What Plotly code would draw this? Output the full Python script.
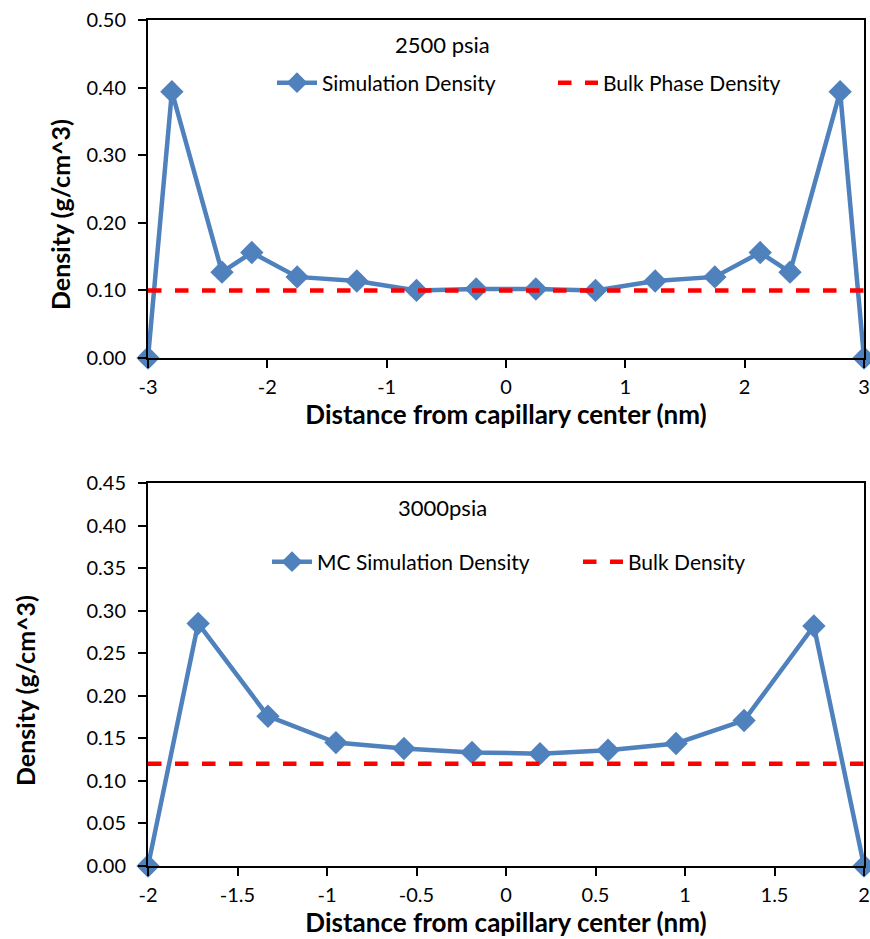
import plotly.graph_objects as go

# ---- data: 2500 psia ----
x_2500 = [-3.0, -2.8, -2.38, -2.13, -1.75, -1.25, -0.75, -0.25, 0.25, 0.75, 1.25, 1.75, 2.13, 2.38, 2.8, 3.0]
sim_2500 = [0.0, 0.394, 0.127, 0.156, 0.120, 0.114, 0.100, 0.102, 0.102, 0.100, 0.114, 0.120, 0.156, 0.127, 0.394, 0.0]
bulk_x_2500 = [-3.0, 3.0]
bulk_2500 = [0.10, 0.10]

# ---- data: 3000 psia ----
x_3000 = [-2.0, -1.72, -1.33, -0.95, -0.57, -0.19, 0.19, 0.57, 0.95, 1.33, 1.72, 2.0]
sim_3000 = [0.0, 0.285, 0.176, 0.145, 0.138, 0.1335, 0.132, 0.136, 0.144, 0.171, 0.282, 0.0]
bulk_x_3000 = [-2.0, 2.0]
bulk_3000 = [0.12, 0.12]

# ---- tick labels ----
xt_top = [-3, -2, -1, 0, 1, 2, 3]
xt_top_lbl = ["-3", "-2", "-1", "0", "1", "2", "3"]
xt_bot = [-2, -1.5, -1, -0.5, 0, 0.5, 1, 1.5, 2]
xt_bot_lbl = ["-2", "-1.5", "-1", "-0.5", "0", "0.5", "1", "1.5", "2"]
yt_top = [0, 0.1, 0.2, 0.3, 0.4, 0.5]
yt_top_lbl = ["0.00", "0.10", "0.20", "0.30", "0.40", "0.50"]
yt_bot = [0, 0.05, 0.1, 0.15, 0.2, 0.25, 0.3, 0.35, 0.4, 0.45]
yt_bot_lbl = ["0.00", "0.05", "0.10", "0.15", "0.20", "0.25", "0.30", "0.35", "0.40", "0.45"]

BLUE = "#4F81BD"
RED = "#FF0000"
FONT = "Lato"

W, H = 870, 939
def px(x): return x / W
def py(y): return 1 - y / H

fig = go.Figure()

fig.add_trace(go.Scatter(x=x_2500, y=sim_2500, mode="lines+markers", name="Simulation Density",
                         line=dict(color=BLUE, width=4.5), marker=dict(symbol="diamond", size=18, color=BLUE),
                         cliponaxis=False, xaxis="x", yaxis="y", legend="legend"))
fig.add_trace(go.Scatter(x=bulk_x_2500, y=bulk_2500, mode="lines", name="Bulk Phase Density",
                         line=dict(color=RED, width=4.5, dash="dash"),
                         xaxis="x", yaxis="y", legend="legend"))
fig.add_trace(go.Scatter(x=x_3000, y=sim_3000, mode="lines+markers", name="MC Simulation Density",
                         line=dict(color=BLUE, width=4.5), marker=dict(symbol="diamond", size=18, color=BLUE),
                         cliponaxis=False, xaxis="x2", yaxis="y2", legend="legend2"))
fig.add_trace(go.Scatter(x=bulk_x_3000, y=bulk_3000, mode="lines", name="Bulk Density",
                         line=dict(color=RED, width=4.5, dash="dash"),
                         xaxis="x2", yaxis="y2", legend="legend2"))

axis_common = dict(showline=True, linecolor="black", linewidth=2, mirror=True, ticks="outside",
                   ticklen=8, tickwidth=2, tickcolor="black", showgrid=False, zeroline=False,
                   automargin=False,
                   tickfont=dict(family=FONT, size=20, color="black"))
title_font = dict(family=FONT, size=26, color="black", weight="bold")
ytitle_font = dict(family=FONT, size=25, color="black", weight="bold")

fig.update_layout(
    width=W, height=H, margin=dict(l=0, r=0, t=0, b=0, autoexpand=False),
    paper_bgcolor="white", plot_bgcolor="white",
    font=dict(family=FONT, color="black"),
    xaxis=dict(domain=[px(148), px(864)], range=[-3, 3], tickvals=xt_top, ticktext=xt_top_lbl,
               anchor="y", ticklabelstandoff=2,
               title=dict(text="Distance from capillary center (nm)", font=title_font, standoff=0),
               **axis_common),
    yaxis=dict(domain=[py(358), py(20)], range=[0, 0.5], tickvals=yt_top, ticktext=yt_top_lbl,
               anchor="x", ticklabelstandoff=8, **axis_common),
    xaxis2=dict(domain=[px(148), px(864)], range=[-2, 2], tickvals=xt_bot, ticktext=xt_bot_lbl,
                anchor="y2", ticklabelstandoff=2,
                title=dict(text="Distance from capillary center (nm)", font=title_font, standoff=0),
                **axis_common),
    yaxis2=dict(domain=[py(866), py(483)], range=[0, 0.45], tickvals=yt_bot, ticktext=yt_bot_lbl,
                anchor="x2", ticklabelstandoff=8, **axis_common),
    legend=dict(x=px(272), y=py(83), xanchor="left", yanchor="middle", orientation="h",
                font=dict(family=FONT, size=21, color="black"), bgcolor="rgba(0,0,0,0)",
                entrywidth=226, itemwidth=40),
    legend2=dict(x=px(267), y=py(562), xanchor="left", yanchor="middle", orientation="h",
                 font=dict(family=FONT, size=21, color="black"), bgcolor="rgba(0,0,0,0)",
                 entrywidth=256, itemwidth=40),
    annotations=[
        dict(text="2500 psia", x=px(442), y=py(45), xref="paper", yref="paper", showarrow=False,
             font=dict(family=FONT, size=22, color="black"), xanchor="center", yanchor="middle"),
        dict(text="3000psia", x=px(442), y=py(507), xref="paper", yref="paper", showarrow=False,
             font=dict(family=FONT, size=22, color="black"), xanchor="center", yanchor="middle"),
        dict(text="Density (g/cm^3)", x=px(60), y=py(215), xref="paper", yref="paper", showarrow=False,
             textangle=-90, font=ytitle_font, xanchor="center", yanchor="middle"),
        dict(text="Density (g/cm^3)", x=px(25), y=py(691), xref="paper", yref="paper", showarrow=False,
             textangle=-90, font=ytitle_font, xanchor="center", yanchor="middle"),
    ],
)

fig.write_html("out.html")
